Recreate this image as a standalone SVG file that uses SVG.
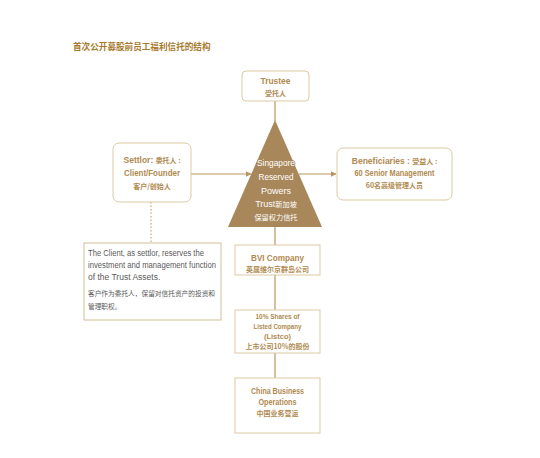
<svg xmlns="http://www.w3.org/2000/svg" width="540" height="458" viewBox="0 0 540 458">
<style>
.box{fill:#fff;stroke:#DDC9A3;stroke-width:1}
.t{font-family:"Liberation Sans","Noto Sans CJK SC",sans-serif;font-size:8.5px;fill:#B08A50;font-weight:bold;text-anchor:middle}
.c{font-family:"Noto Sans CJK SC",sans-serif;font-size:7px;font-weight:bold}
.w{font-family:"Liberation Sans","Noto Sans CJK SC",sans-serif;font-size:9px;fill:#fff;text-anchor:middle;stroke:#A8875A;stroke-width:1.6;paint-order:stroke;stroke-linejoin:round}
.wc{font-family:"Noto Sans CJK SC",sans-serif;font-size:7.2px}
.n{font-family:"Liberation Sans","Noto Sans CJK SC",sans-serif;font-size:8.5px;fill:#5a5a5a}
.nc{font-family:"Noto Sans CJK SC",sans-serif;font-size:6.7px;fill:#5a5a5a}
.ln{stroke:#B8955E;stroke-width:1.2;fill:none}
</style>
<defs>
<marker id="ah" viewBox="0 0 6 6" refX="5.5" refY="3" markerWidth="5" markerHeight="5" orient="auto"><path d="M0,0 L6,3 L0,6 z" fill="#B8955E"/></marker>
</defs>
<rect width="540" height="458" fill="#fff"/>
<text x="73" y="50" style="font-family:'Noto Sans CJK SC',sans-serif;font-size:8.6px;font-weight:bold;fill:#A87A2E">首次公开募股前员工福利信托的结构</text>
<g id="connectors">
<line class="ln" x1="275" y1="101" x2="275" y2="121"/>
<line class="ln" x1="191" y1="174" x2="251" y2="174" marker-end="url(#ah)"/>
<line class="ln" x1="299" y1="174" x2="336" y2="174" marker-end="url(#ah)"/>
<line x1="151" y1="202" x2="151" y2="243" stroke="#B8955E" stroke-width="1" stroke-dasharray="1.5,2"/>
<line class="ln" x1="275" y1="227" x2="275" y2="245"/>
<line class="ln" x1="275" y1="275" x2="275" y2="310"/>
<line class="ln" x1="275" y1="353" x2="275" y2="378"/>
</g>
<g id="trustee">
<rect class="box" x="242" y="71" width="67" height="30" rx="4"/>
<text class="t" x="275.5" y="84" textLength="30" lengthAdjust="spacingAndGlyphs">Trustee</text>
<text class="t c" x="275.5" y="96">受托人</text>
</g>
<g id="trust">
<polygon points="275,120 322,227 228,227" fill="#A8875A"/>
<text class="w" x="276" y="166" textLength="38" lengthAdjust="spacingAndGlyphs">Singapore</text>
<text class="w" x="276" y="180" textLength="35" lengthAdjust="spacingAndGlyphs">Reserved</text>
<text class="w" x="276" y="194" textLength="30" lengthAdjust="spacingAndGlyphs">Powers</text>
<text class="w" x="276" y="207">Trust<tspan class="wc">新加坡</tspan></text>
<text class="w wc" x="276" y="220">保留权力信托</text>
</g>
<g id="settlor">
<rect class="box" x="113" y="143" width="78" height="59" rx="6"/>
<text class="t" x="152" y="163">Settlor: <tspan class="c">委托人 :</tspan></text>
<text class="t" x="152" y="176" textLength="56" lengthAdjust="spacingAndGlyphs">Client/Founder</text>
<text class="t c" x="152" y="189">客户/创始人</text>
</g>
<g id="beneficiaries">
<rect class="box" x="337" y="148" width="115" height="52" rx="6"/>
<text class="t" x="394.5" y="164">Beneficiaries : <tspan class="c">受益人 :</tspan></text>
<text class="t" x="394.5" y="176" textLength="80" lengthAdjust="spacingAndGlyphs">60 Senior Management</text>
<text class="t c" x="394.5" y="187.5">60名高级管理人员</text>
</g>
<g id="note">
<rect x="84" y="243" width="137" height="77" fill="#fff" stroke="#D4BE94" stroke-width="1"/>
<text class="n" x="88" y="256" textLength="116" lengthAdjust="spacingAndGlyphs">The  Client, as settlor, reserves the</text>
<text class="n" x="88" y="268" textLength="128" lengthAdjust="spacingAndGlyphs">investment and management function</text>
<text class="n" x="88" y="280">of the Trust Assets.</text>
<text class="nc" x="88" y="296">客户作为委托人，保留对信托资产的投资和</text>
<text class="nc" x="88" y="309">管理职权。</text>
</g>
<g id="bvi">
<rect class="box" x="235" y="245" width="85" height="30"/>
<text class="t" x="277.5" y="261" textLength="53" lengthAdjust="spacingAndGlyphs">BVI Company</text>
<text class="t c" x="277.5" y="272">英属维尔京群岛公司</text>
</g>
<g id="shares">
<rect class="box" x="235" y="310" width="85" height="43"/>
<text class="t" x="277.5" y="319" style="font-size:7.5px" textLength="44" lengthAdjust="spacingAndGlyphs">10% Shares of</text>
<text class="t" x="277.5" y="329" style="font-size:7.5px" textLength="48" lengthAdjust="spacingAndGlyphs">Listed Company</text>
<text class="t" x="277.5" y="339" style="font-size:7.5px">(Listco)</text>
<text class="t c" x="277.5" y="349">上市公司10%的股份</text>
</g>
<g id="china">
<rect class="box" x="235" y="378" width="85" height="55"/>
<text class="t" x="277.5" y="394" textLength="53" lengthAdjust="spacingAndGlyphs">China Business</text>
<text class="t" x="277.5" y="405" textLength="38" lengthAdjust="spacingAndGlyphs">Operations</text>
<text class="t c" x="277.5" y="416">中国业务营运</text>
</g>
</svg>
